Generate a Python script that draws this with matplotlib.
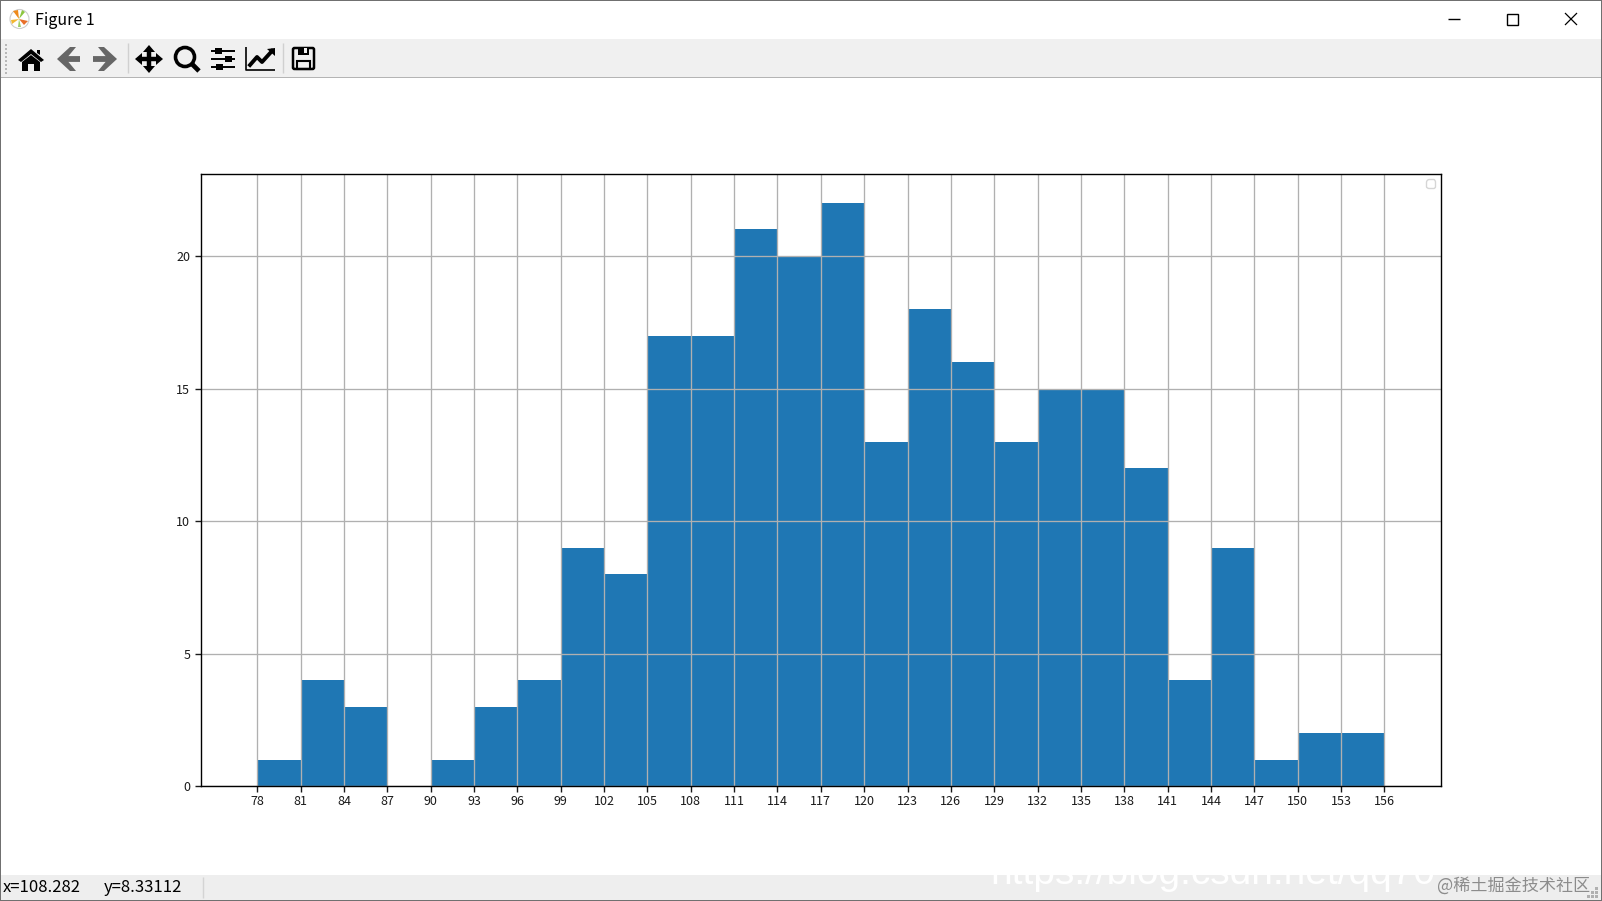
import matplotlib
matplotlib.use('Agg')
import matplotlib.pyplot as plt
from matplotlib.patches import Circle, Polygon, Rectangle, FancyBboxPatch

plt.rcParams['font.family'] = ['Noto Sans CJK SC', 'DejaVu Sans']

# 直方图数据
bin_edges = [78, 81, 84, 87, 90, 93, 96, 99, 102, 105, 108, 111, 114, 117,
             120, 123, 126, 129, 132, 135, 138, 141, 144, 147, 150, 153, 156]
counts = [1, 4, 3, 0, 1, 3, 4, 9, 8, 17, 17, 21, 20, 22,
          13, 18, 16, 13, 15, 15, 12, 4, 9, 1, 2, 2]
y_ticks = [0, 5, 10, 15, 20]

W, H = 1602, 901
fig = plt.figure(figsize=(W / 100, H / 100), dpi=100, facecolor='white')

# 窗口外框、工具栏、状态栏，用像素坐标画
ui = fig.add_axes([0, 0, 1, 1], zorder=0)
ui.set_xlim(0, W)
ui.set_ylim(H, 0)
ui.axis('off')

def rect(x, y, w, h, color, z=1):
    ui.add_patch(Rectangle((x, y), w, h, fc=color, ec='none', zorder=z))

def line(xs, ys, color='black', lw=1.0, z=3):
    ui.plot(xs, ys, color=color, lw=lw, solid_capstyle='butt', zorder=z)

def poly(pts, color='black', z=3):
    ui.add_patch(Polygon(pts, closed=True, fc=color, ec='none', zorder=z))

rect(0, 39, W, 38, '#f0f0f0')
rect(0, 77, W, 1, '#b4b4b4')
rect(0, 875, W, 25, '#eeeeee')

# 边框
rect(0, 0, W, 1, '#707070', 5)
rect(0, 900, W, 1, '#707070', 5)
rect(0, 0, 1, H, '#707070', 5)
rect(W - 1, 0, 1, H, '#707070', 5)

# 标题栏
ui.add_patch(Circle((19.5, 19), 9.5, fc='white', ec='#cccccc', lw=0.8, zorder=3))
for pts, c in [([(19, 19), (13, 11), (18, 10)], '#ee8a1c'),
               ([(19, 19), (24, 25), (28, 21)], '#e8702a'),
               ([(19, 19), (11, 20), (12, 24)], '#f2b632'),
               ([(19, 19), (22, 10), (25, 12)], '#8cc63f'),
               ([(19, 19), (18, 27), (21, 27)], '#9ccc65')]:
    poly(pts, c, 4)
ui.text(35, 20.5, 'Figure 1', fontsize=11.5, va='center', ha='left', color='black')
line([1448, 1460], [18.5, 18.5], lw=1)
ui.add_patch(Rectangle((1506.5, 13.5), 11, 11, fc='none', ec='black', lw=1, zorder=3))
line([1565, 1577], [13, 25], lw=0.9)
line([1565, 1577], [25, 13], lw=0.9)

# 工具栏图标
for i in range(8):
    rect(5, 44 + i * 4, 2, 2, '#b8b8b8')
line([127.5, 127.5], [43, 73], '#d0d0d0')
line([282.5, 282.5], [43, 73], '#d0d0d0')

# home
poly([(18, 60), (31, 49), (44, 60), (41, 62), (31, 54), (21, 62)])
poly([(22, 62), (31, 55), (40, 62), (40, 71), (34, 71), (34, 64), (28, 64), (28, 71), (22, 71)])
poly([(37, 50), (40, 50), (40, 55), (37, 53)])
# back / forward
g = '#666666'
line([65, 80], [59, 59], g, lw=4.2)
poly([(70, 47), (76, 47), (66, 59), (76, 71), (70, 71), (57, 59)], g)
line([93, 108], [59, 59], g, lw=4.2)
poly([(104, 47), (98, 47), (108, 59), (98, 71), (104, 71), (117, 59)], g)
# move
line([139, 159], [59, 59], lw=3.2)
line([149, 149], [49, 69], lw=3.2)
poly([(149, 45), (143, 52), (155, 52)])
poly([(149, 73), (143, 66), (155, 66)])
poly([(135, 59), (142, 53), (142, 65)])
poly([(163, 59), (156, 53), (156, 65)])
# zoom
ui.add_patch(Circle((185, 57), 9.5, fc='none', ec='black', lw=2.6, zorder=3))
line([192, 199], [64, 71], lw=3.4)
# sliders
for yy, xx in [(51, 218), (59, 228), (67, 219)]:
    line([211, 235], [yy, yy], lw=1.4)
    rect(xx - 3, yy - 3, 7, 6, 'black', 4)
# 折线图标
line([246, 246, 275], [47, 70, 70], lw=1.2)
ui.plot([250, 257, 262, 272], [65, 57, 62, 51], color='black', lw=2.8, zorder=3)
poly([(267, 49), (275, 48), (275, 56)])
# save
ui.add_patch(FancyBboxPatch((293, 48), 21, 21, boxstyle='round,pad=0,rounding_size=1.5',
                            fc='none', ec='black', lw=1.8, zorder=3))
rect(298, 47, 11, 8, 'black', 4)
rect(304, 48, 3, 5, '#f0f0f0', 5)
ui.add_patch(Rectangle((297, 61), 13, 8, fc='none', ec='black', lw=1.5, zorder=4))

# 状态栏
ui.text(3, 888, 'x=108.282', fontsize=12, va='center', ha='left', color='black')
ui.text(104, 888, 'y=8.33112', fontsize=12, va='center', ha='left', color='black')
line([202.5, 202.5], [877, 898], '#d4d4d4')
for px, py in [(1596, 887), (1592, 891), (1596, 891), (1588, 895), (1592, 895), (1596, 895)]:
    rect(px - 1, py, 3, 3, '#b0b0b0', 3)

# 水印
ui.text(990, 884, 'https://blog.csdn.net/qq70', fontsize=28, color='white',
        family='Liberation Sans', va='baseline', ha='left', zorder=4)
ui.text(1437, 886, '@稀土掘金技术社区', fontsize=12.3, color='#8c8c8c',
        va='center', ha='left', zorder=5)

# 直方图
ax = fig.add_axes([200.8 / W, 1 - 786.3 / H, 1240 / W, 612.5 / H], zorder=2)
ax.hist(bin_edges[:-1], bins=bin_edges, weights=counts, color='#1f77b4')
ax.set_xticks(bin_edges)
ax.set_yticks(y_ticks)
ax.grid(True, color='#b0b0b0', lw=0.95)
ax.tick_params(labelsize=9, width=1.0, length=4.5, colors='#1a1a1a')
ax.tick_params(axis='x', pad=1.5)
ax.tick_params(axis='y', pad=3)
for s in ax.spines.values():
    s.set_linewidth(1.0)
ax.legend(handles=[], loc='upper right', fontsize=8)

fig.savefig('out.png', dpi=100)
